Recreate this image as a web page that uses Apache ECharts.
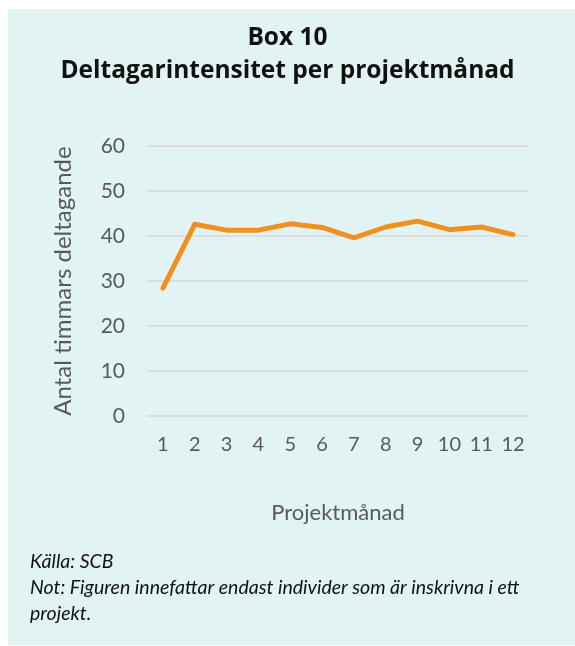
<!DOCTYPE html>
<html>
<head>
<meta charset="utf-8">
<script src="https://cdn.jsdelivr.net/npm/echarts@6/dist/echarts.min.js"></script>
<style>
  html, body { margin: 0; padding: 0; background: #ffffff; }
  #main { width: 575px; height: 646px; }
</style>
</head>
<body>
<div id="main"></div>
<script>
// data
var months = ['1', '2', '3', '4', '5', '6', '7', '8', '9', '10', '11', '12'];
var hours = [28.4, 42.6, 41.3, 41.3, 42.7, 41.9, 39.6, 42.0, 43.3, 41.4, 42.0, 40.3];
var yTicks = [0, 10, 20, 30, 40, 50, 60];

var font = 'Lato';
var myChart = echarts.init(document.getElementById('main'));

var option = {
    backgroundColor: '#ffffff',
    graphic: [
        { type: 'rect', z: -10, shape: { x: 8, y: 9, width: 567, height: 636 }, style: { fill: '#E1F4F3' } },
        { type: 'text', left: 30, top: 549, style: { text: 'Källa: SCB\nNot: Figuren innefattar endast individer som är inskrivna i ett\nprojekt.', font: 'italic 19.5px Lato', fill: '#111111', lineHeight: 26 } }
    ],
    title: {
        text: 'Box 10\nDeltagarintensitet per projektmånad',
        left: 'center',
        top: 17,
        textStyle: { fontFamily: 'Open Sans', fontWeight: 'bold', fontSize: 24.5, color: '#111111', lineHeight: 33 }
    },
    grid: { left: 147, right: 46, top: 146, bottom: 230 },
    xAxis: {
        type: 'category',
        data: months,
        boundaryGap: true,
        name: 'Projektmånad',
        nameLocation: 'middle',
        nameGap: 86,
        nameTextStyle: { fontFamily: font, fontSize: 22, color: '#595959' },
        axisLine: { show: false },
        axisTick: { show: false },
        axisLabel: { fontFamily: font, fontSize: 20, color: '#595959', margin: 19 }
    },
    yAxis: {
        type: 'value',
        min: yTicks[0],
        max: yTicks[yTicks.length - 1],
        interval: 10,
        name: 'Antal timmars deltagande',
        nameLocation: 'middle',
        nameGap: 72,
        nameTextStyle: { fontFamily: font, fontSize: 24, color: '#595959' },
        axisLine: { show: false },
        axisTick: { show: false },
        axisLabel: { fontFamily: font, fontSize: 21, color: '#595959', margin: 22 },
        splitLine: { lineStyle: { color: '#D9D9D9', width: 1.5 } }
    },
    series: [{
        type: 'line',
        data: hours,
        symbol: 'none',
        lineStyle: { color: '#F0901E', width: 5, cap: 'round', join: 'round' },
        animation: false
    }]
};
myChart.setOption(option);
</script>
</body>
</html>
